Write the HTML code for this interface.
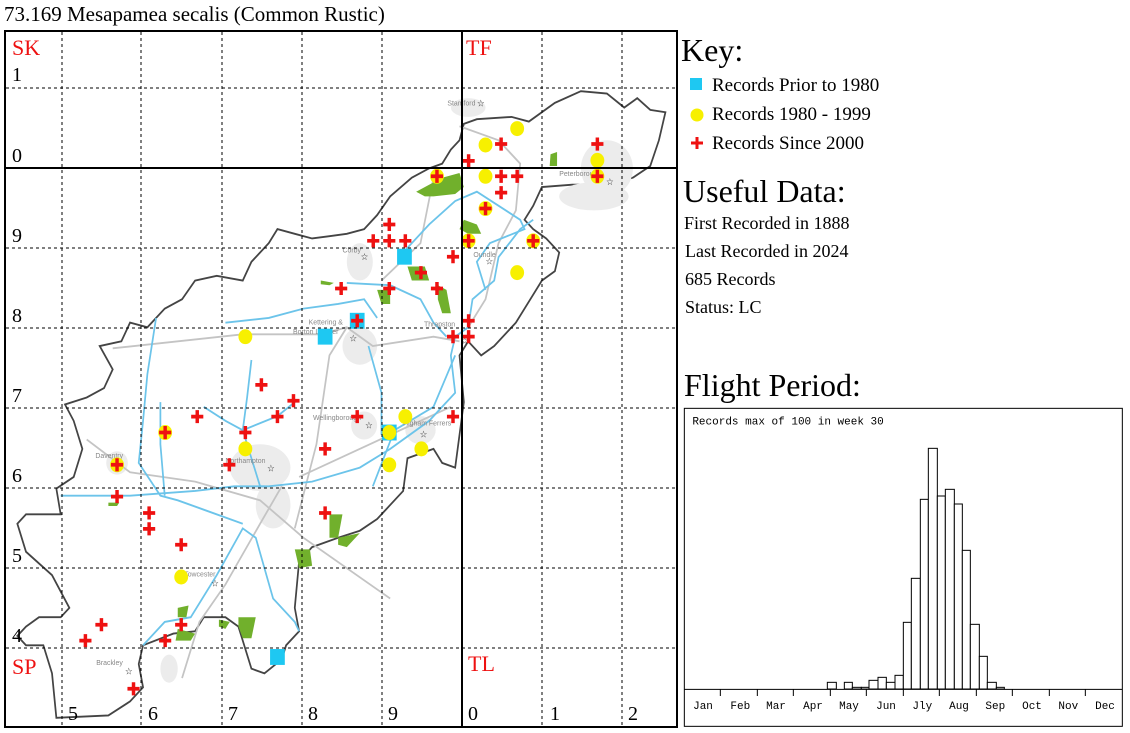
<!DOCTYPE html>
<html><head><meta charset="utf-8"><style>
html,body{margin:0;padding:0;background:#fff;width:1130px;height:733px;overflow:hidden}
svg{display:block}
</style></head><body>
<svg width="1130" height="733" viewBox="0 0 1130 733" xmlns="http://www.w3.org/2000/svg" font-family="Liberation Serif, serif">
<text x="4" y="21" font-size="21">73.169 Mesapamea secalis (Common Rustic)</text>
<!-- map -->
<g transform="scale(0.4335,0.4676)">
<path d="M130,1535 L250,1530 300,1500 330,1470 320,1420 330,1380 400,1355 450,1350 470,1320 520,1320 550,1340 580,1430 610,1440 650,1410 660,1380 690,1350 680,1300 690,1200 720,1170 780,1150 830,1135 870,1110 900,1080 930,1050 940,980 1000,960 1020,990 1050,1000 1060,930 1070,860 1060,760 1080,730 1110,760 1140,740 1190,690 1230,630 1250,600 1280,580 1290,540 1260,510 1230,490 1210,470 1230,440 1250,400 1320,395 1400,395 1460,380 1500,355 1520,300 1535,240 1500,235 1470,210 1440,230 1400,200 1340,195 1280,220 1220,260 1180,250 1100,255 1070,265 1060,300 1040,320 1020,350 990,360 950,380 900,420 870,460 840,490 800,500 760,505 720,510 680,500 640,490 620,520 580,560 560,600 500,590 450,600 420,640 380,660 340,700 300,690 280,730 230,740 260,790 240,830 200,850 150,865 170,900 190,960 170,1020 130,1045 140,1100 60,1100 40,1120 60,1180 120,1230 160,1300 140,1320 90,1320 60,1340 40,1360 60,1380 100,1380 120,1440 130,1535Z" fill="#fff" stroke="#444" stroke-width="4"/>
<g fill="#ececec">
<ellipse cx="1400" cy="360" rx="60" ry="60"/><ellipse cx="1370" cy="420" rx="80" ry="30"/>
<ellipse cx="830" cy="560" rx="30" ry="40"/><ellipse cx="830" cy="740" rx="40" ry="40"/>
<ellipse cx="600" cy="1000" rx="70" ry="50"/><ellipse cx="630" cy="1080" rx="40" ry="50"/>
<ellipse cx="840" cy="910" rx="30" ry="30"/><ellipse cx="970" cy="920" rx="35" ry="30"/>
<ellipse cx="270" cy="990" rx="25" ry="25"/><ellipse cx="390" cy="1430" rx="20" ry="30"/><ellipse cx="1080" cy="230" rx="40" ry="20"/>
</g>
<g fill="none" stroke="#c4c4c4" stroke-width="4">
<path d="M260,745 L560,715 740,715 800,700 860,740 1000,720 1060,730"/>
<path d="M200,940 L300,1010 450,1030 600,1070 700,1150 900,1280"/>
<path d="M680,1130 L730,950 760,760 800,700"/>
<path d="M420,1450 L460,1330 520,1250 600,1120 650,1040"/>
<path d="M690,1020 L900,930 1040,870"/>
<path d="M1060,270 L1150,300 1200,350 1190,450 1150,520 1120,640 1080,700"/>
<path d="M1000,380 L970,520 880,600"/>
</g>
<g fill="none" stroke="#6cc4ea" stroke-width="4">
<path d="M330,1380 L380,1330 440,1320 500,1230 560,1130 590,1150 630,1280 680,1330 690,1350"/>
<path d="M140,1060 L300,1060 450,1050 540,1040 620,1040 720,1030 830,1000 900,960 990,900 1050,840 1040,760 1050,720 1080,700 1090,640 1140,600 1150,550 1200,490 1230,470"/>
<path d="M520,690 L620,680 700,660 780,650 840,640 870,680"/>
<path d="M360,680 L340,800 330,900 320,990 370,1060 410,1070 470,1090 560,1120"/>
<path d="M800,605 L900,610 970,640 1000,690 1030,720"/>
<path d="M930,540 L990,480 1050,430 1100,410 1200,470 1210,490 1130,520 1100,560 1120,620"/>
<path d="M580,770 L570,850 560,920 580,980 600,1040 L610,1040"/>
<path d="M470,870 L520,900 560,920 640,890 680,860"/>
<path d="M370,860 L370,950 380,1060"/>
<path d="M850,740 L880,840 880,930"/>
<path d="M860,1040 L910,920 1000,870 1050,760"/>
</g>
<g fill="#71b02c">
<path d="M960,410 L1000,390 1020,380 1060,370 1070,400 1050,415 1000,420 980,420Z"/>
<path d="M1070,470 L1100,480 1110,500 1080,500 1060,490Z"/>
<path d="M1270,330 L1285,325 1285,355 1268,355Z"/>
<path d="M940,570 L980,570 990,600 950,600Z"/>
<path d="M1010,610 L1030,620 1040,670 1020,670 1010,640Z"/>
<path d="M870,620 L900,620 900,650 880,650Z"/>
<path d="M740,600 L770,605 760,610 740,608Z"/>
<path d="M760,1100 L790,1100 780,1150 760,1150Z"/>
<path d="M780,1150 L830,1140 800,1170 780,1165Z"/>
<path d="M680,1175 L715,1175 720,1210 690,1215Z"/>
<path d="M410,1300 L435,1295 430,1320 410,1320Z"/>
<path d="M410,1345 L450,1355 440,1370 405,1370Z"/>
<path d="M505,1325 L530,1330 520,1345 505,1340Z"/>
<path d="M550,1320 L590,1320 580,1365 560,1365 550,1340Z"/>
<path d="M250,1075 L275,1075 270,1082 250,1082Z"/>
</g>
<g font-size="20" fill="#222" font-family="DejaVu Sans, sans-serif">
<text x="1398" y="396">☆</text><text x="832" y="556">☆</text><text x="1120" y="566">☆</text><text x="806" y="730">☆</text><text x="1063" y="736">☆</text><text x="842" y="916">☆</text><text x="968" y="936">☆</text><text x="616" y="1008">☆</text><text x="487" y="1254">☆</text><text x="288" y="1442">☆</text><text x="1100" y="228">☆</text>
</g>
<g font-size="16" fill="#888" font-family="Liberation Sans, sans-serif">
<text x="1032" y="226">Stamford</text><text x="1290" y="376">Peterborough</text><text x="790" y="540">Corby</text><text x="1092" y="550">Oundle</text><text x="712" y="694">Kettering &amp;</text><text x="676" y="714">Borton Latimer</text><text x="978" y="698">Thrapston</text><text x="722" y="898">Wellingborough</text><text x="930" y="910">Higham Ferrers</text><text x="220" y="980">Daventry</text><text x="520" y="990">Northampton</text><text x="425" y="1233">Towcester</text><text x="222" y="1422">Brackley</text>
</g>
<g fill="#1ec8f2">
<rect x="916" y="532" width="34" height="34"/><rect x="807" y="669" width="34" height="34"/><rect x="733" y="703" width="34" height="34"/><rect x="881" y="908" width="34" height="34"/><rect x="623" y="1388" width="34" height="34"/>
</g>
<g fill="#f7f000">
<circle cx="1193" cy="275" r="16"/><circle cx="1120" cy="310" r="16"/><circle cx="1378" cy="343" r="16"/><circle cx="1120" cy="377" r="16"/><circle cx="1120" cy="446" r="16"/><circle cx="1081" cy="515" r="16"/><circle cx="1230" cy="515" r="16"/><circle cx="1193" cy="583" r="16"/><circle cx="566" cy="720" r="16"/><circle cx="935" cy="891" r="16"/><circle cx="898" cy="925" r="16"/><circle cx="381" cy="925" r="16"/><circle cx="566" cy="960" r="16"/><circle cx="972" cy="960" r="16"/><circle cx="270" cy="994" r="16"/><circle cx="898" cy="994" r="16"/><circle cx="418" cy="1234" r="16"/><circle cx="1008" cy="377" r="16"/><circle cx="1378" cy="377" r="16"/>
</g>
<g stroke="#ee1111" stroke-width="8" fill="none">
<path d="M1008,363v28M994,377h28 M1081,330v28M1067,344h28 M1156,294v28M1142,308h28 M1378,294v28M1364,308h28 M1156,363v28M1142,377h28 M1193,363v28M1179,377h28 M1378,363v28M1364,377h28 M1156,398v28M1142,412h28 M1120,432v28M1106,446h28 M898,466v28M884,480h28 M861,501v28M847,515h28 M898,501v28M884,515h28 M935,501v28M921,515h28 M1081,501v28M1067,515h28 M1230,501v28M1216,515h28 M1045,535v28M1031,549h28 M971,569v28M957,583h28 M787,603v28M773,617h28 M898,603v28M884,617h28 M1008,603v28M994,617h28 M824,672v28M810,686h28 M1081,672v28M1067,686h28 M1045,706v28M1031,720h28 M1081,706v28M1067,720h28 M603,809v28M589,823h28 M677,843v28M663,857h28 M455,877v28M441,891h28 M640,877v28M626,891h28 M824,877v28M810,891h28 M1045,877v28M1031,891h28 M381,911v28M367,925h28 M566,911v28M552,925h28 M750,946v28M736,960h28 M270,980v28M256,994h28 M529,980v28M515,994h28 M270,1048v28M256,1062h28 M344,1083v28M330,1097h28 M750,1083v28M736,1097h28 M344,1117v28M330,1131h28 M418,1151v28M404,1165h28 M234,1322v28M220,1336h28 M418,1322v28M404,1336h28 M197,1356v28M183,1370h28 M381,1356v28M367,1370h28 M308,1459v28M294,1473h28"/>
</g>
</g>
<g stroke="#000" stroke-width="1" stroke-dasharray="3,3" fill="none">
<path d="M62,32V726M141,32V726M222,32V726M302,32V726M382,32V726M542,32V726M622,32V726"/>
<path d="M6,88H677M6,248H677M6,328H677M6,408H677M6,488H677M6,568H677M6,648H677"/>
</g>
<g stroke="#000" stroke-width="2" fill="none">
<rect x="5" y="31" width="672" height="696"/>
<path d="M462,31V727M5,168H677"/>
</g>
<g font-size="20" fill="#000">
<text x="12" y="81">1</text><text x="12" y="162">0</text><text x="12" y="242">9</text><text x="12" y="322">8</text><text x="12" y="402">7</text><text x="12" y="482">6</text><text x="12" y="562">5</text><text x="12" y="642">4</text>
<text x="68" y="720">5</text><text x="148" y="720">6</text><text x="228" y="720">7</text><text x="308" y="720">8</text><text x="388" y="720">9</text><text x="468" y="720">0</text><text x="550" y="720">1</text><text x="628" y="720">2</text>
</g>
<g font-size="22" fill="#ee1111">
<text x="12" y="55">SK</text><text x="466" y="55">TF</text><text x="12" y="674">SP</text><text x="468" y="671">TL</text>
</g>
<text x="681" y="61" font-size="32">Key:</text>
<rect x="690" y="78" width="12" height="12" fill="#1ec8f2"/>
<text x="712" y="91" font-size="19">Records Prior to 1980</text>
<circle cx="697" cy="115" r="6.5" fill="#f7f000"/>
<text x="712" y="120" font-size="19">Records 1980 - 1999</text>
<path d="M697,137v12M691,143h12" stroke="#ee1111" stroke-width="3"/>
<text x="712" y="149" font-size="19">Records Since 2000</text>
<text x="683" y="202" font-size="32">Useful Data:</text>
<g font-size="18"><text x="684" y="229">First Recorded in 1888</text><text x="685" y="257">Last Recorded in 2024</text><text x="685" y="285">685 Records</text><text x="685" y="313">Status: LC</text></g>
<text x="684" y="396" font-size="32">Flight Period:</text>
<svg x="683" y="405" width="442" height="322" viewBox="0 0 1326 966">
<rect x="4" y="10" width="1314" height="954" fill="#fff" stroke="#000" stroke-width="3"/>
<text x="28" y="58" font-size="33" font-family="Liberation Mono, monospace">Records max of 100 in week 30</text>
<g fill="#fff" stroke="#000" stroke-width="3">
<rect x="433" y="832" width="27" height="20"/><rect x="484" y="832" width="24" height="20"/><rect x="508" y="847" width="27" height="5"/><rect x="535" y="847" width="23" height="5"/><rect x="558" y="826" width="27" height="26"/><rect x="585" y="817" width="25" height="35"/><rect x="610" y="832" width="26" height="20"/><rect x="636" y="811" width="25" height="41"/><rect x="661" y="652" width="24" height="200"/><rect x="685" y="520" width="27" height="332"/><rect x="712" y="283" width="24" height="569"/><rect x="736" y="130" width="27" height="722"/><rect x="763" y="273" width="24" height="579"/><rect x="787" y="253" width="27" height="599"/><rect x="814" y="297" width="24" height="555"/><rect x="838" y="436" width="24" height="416"/><rect x="862" y="658" width="27" height="194"/><rect x="889" y="754" width="24" height="98"/><rect x="913" y="832" width="27" height="20"/><rect x="940" y="847" width="24" height="5"/>
</g>
<path d="M4,853H1318 M112,853v20M223,853v20M331,853v20M442,853v20M550,853v20M661,853v20M769,853v20M880,853v20M988,853v20M1099,853v20M1207,853v20" stroke="#000" stroke-width="3"/>
<g font-size="33" font-family="Liberation Mono, monospace" text-anchor="middle">
<text x="60" y="912">Jan</text><text x="172" y="912">Feb</text><text x="279" y="912">Mar</text><text x="390" y="912">Apr</text><text x="498" y="912">May</text><text x="609" y="912">Jun</text><text x="718" y="912">Jly</text><text x="828" y="912">Aug</text><text x="937" y="912">Sep</text><text x="1047" y="912">Oct</text><text x="1156" y="912">Nov</text><text x="1266" y="912">Dec</text>
</g>
</svg>
</svg>
</body></html>
